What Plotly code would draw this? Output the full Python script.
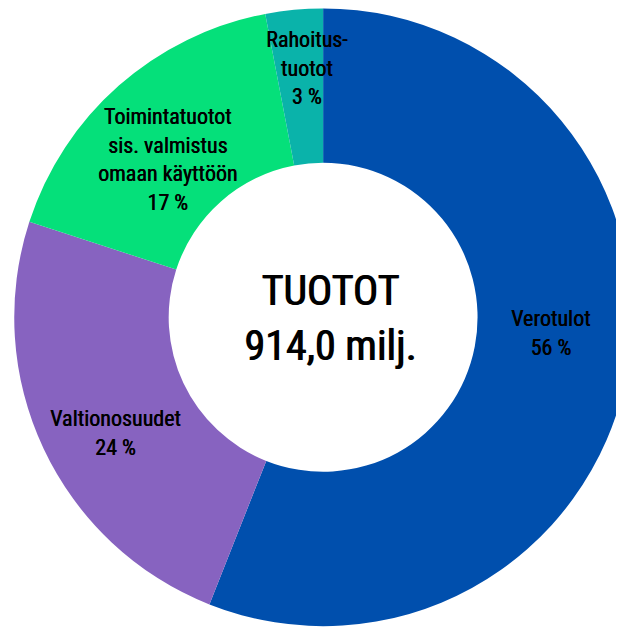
import plotly.graph_objects as go

labels = ["Verotulot", "Valtionosuudet", "Toimintatuotot<br>sis. valmistus<br>omaan käyttöön", "Rahoitus-<br>tuotot"]
shares = [56, 24, 17, 3]
colors = ["#004FAD", "#8763C0", "#05E07A", "#0AB3AA"]
center_title = "TUOTOT"
center_total = "914,0 milj."

# label anchor positions (paper coords) for each slice label
label_x = [0.869, 0.172, 0.256, 0.479]
label_y = [0.4825, 0.323, 0.758, 0.905]

FONT = "Roboto Condensed, Open Sans Condensed, Liberation Sans Narrow, Roboto, sans-serif"

texts = [f"{l}<br>{s} %" for l, s in zip(labels, shares)]

fig = go.Figure(go.Pie(
    values=shares,
    labels=labels,
    textinfo="none",
    hoverinfo="skip",
    sort=False,
    direction="clockwise",
    rotation=0,
    hole=0.5,
    domain=dict(x=[0.01, 1], y=[0.015, 1]),
    marker=dict(colors=colors, line=dict(width=0)),
    showlegend=False,
))

annotations = [dict(
    text=t, x=x, y=y, xref="paper", yref="paper", showarrow=False,
    xanchor="center", yanchor="middle",
    font=dict(family=FONT, size=22, color="black", shadow="0.5px 0 0 black"),
) for t, x, y in zip(texts, label_x, label_y)]

annotations.append(dict(
    text=f"{center_title}<br>{center_total}",
    x=0.516, y=0.506, xref="paper", yref="paper", showarrow=False,
    xanchor="center", yanchor="middle",
    font=dict(family=FONT, size=42, color="black", shadow="1px 0 0 black"),
))

fig.update_layout(
    width=624, height=628,
    margin=dict(l=0, r=0, t=0, b=0),
    paper_bgcolor="white",
    annotations=annotations,
)

fig.write_html("out.html")
